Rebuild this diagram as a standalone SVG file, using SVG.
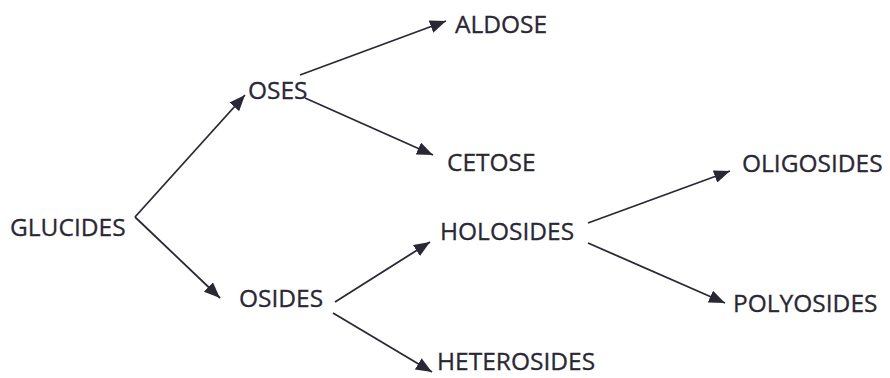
<svg xmlns="http://www.w3.org/2000/svg" width="890" height="378" viewBox="0 0 890 378">
  <style>
    .label { font-family: "Open Sans", "Liberation Sans", sans-serif; font-size: 24.5px; fill: #2a2834; stroke: #2a2834; stroke-width: 0.3; }
    .edge { stroke: #2a2834; stroke-width: 1.8; fill: none; marker-end: url(#head); }
  </style>
  <defs>
    <marker id="head" markerUnits="userSpaceOnUse" markerWidth="17" markerHeight="13" refX="16" refY="6.5" orient="auto">
      <path d="M0,0 L16,6.5 L0,13 z" fill="#2a2834"/>
    </marker>
  </defs>
  <rect width="890" height="378" fill="#ffffff"/>

  <!-- classification links -->
  <g id="connectors">
    <line class="edge" x1="135" y1="217" x2="245" y2="95"/>
    <line class="edge" x1="135" y1="217" x2="220" y2="298"/>
    <line class="edge" x1="300" y1="75" x2="446" y2="21"/>
    <line class="edge" x1="305" y1="98" x2="433" y2="155"/>
    <line class="edge" x1="335" y1="302" x2="430" y2="242"/>
    <line class="edge" x1="333" y1="313" x2="432" y2="372"/>
    <line class="edge" x1="588" y1="223" x2="730" y2="171"/>
    <line class="edge" x1="588" y1="243" x2="725" y2="303"/>
  </g>

  <g id="glucides"><text class="label" x="10" y="236">GLUCIDES</text></g>
  <g id="oses"><text class="label" x="248" y="99">OSES</text></g>
  <g id="aldose"><text class="label" x="455" y="33">ALDOSE</text></g>
  <g id="cetose"><text class="label" x="447" y="171">CETOSE</text></g>
  <g id="osides"><text class="label" x="239" y="307">OSIDES</text></g>
  <g id="holosides"><text class="label" x="440" y="240">HOLOSIDES</text></g>
  <g id="heterosides"><text class="label" x="437" y="370">HETEROSIDES</text></g>
  <g id="oligosides"><text class="label" x="742" y="172">OLIGOSIDES</text></g>
  <g id="polyosides"><text class="label" x="733" y="312">POLYOSIDES</text></g>
</svg>
